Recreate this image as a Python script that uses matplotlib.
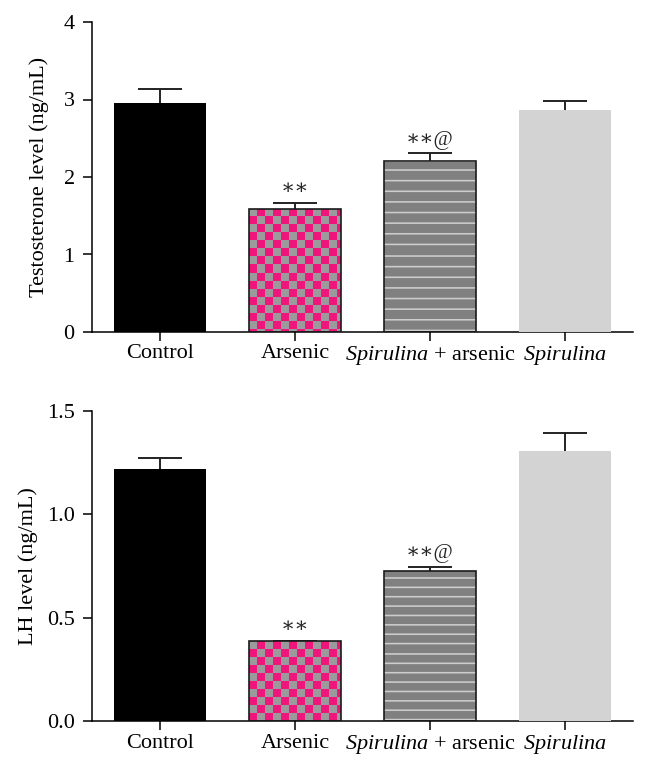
import numpy as np
import matplotlib
matplotlib.use('Agg')
import matplotlib.pyplot as plt

plt.rcParams['font.family'] = ['Liberation Serif', 'DejaVu Serif']
plt.rcParams['mathtext.fontset'] = 'custom'
plt.rcParams['mathtext.rm'] = 'Liberation Serif'
plt.rcParams['mathtext.it'] = 'Liberation Serif:italic'

# data
groups = ['Control', 'Arsenic', r'$\mathit{Spirulina}$ + arsenic', r'$\mathit{Spirulina}$']
testosterone = [2.95, 1.59, 2.20, 2.87]
testosterone_err = [0.18, 0.08, 0.11, 0.11]
lh = [1.22, 0.385, 0.727, 1.306]
lh_err = [0.055, 0.004, 0.019, 0.089]
signif = ['', '\u2217\u2217', '\u2217\u2217@', '']

PINK = np.array([240, 20, 125]) / 255
CHECK_GRAY = np.array([155, 155, 155]) / 255
STRIPE_BASE = np.array([128, 128, 128]) / 255
STRIPE_LIGHT = np.array([205, 205, 205]) / 255


def checker_img(w, h, size=8):
    yy, xx = np.mgrid[0:h, 0:w]
    mask = ((yy // size) + (xx // size)) % 2 == 1
    img = np.empty((h, w, 3))
    img[mask] = PINK
    img[~mask] = CHECK_GRAY
    return img


def stripe_img(w, h, n=16, thick=1.6):
    # pixel coverage of thin light stripes, so they all look alike
    period = h / n
    centers = period * (np.arange(n) + 0.85)
    top = np.arange(h)[:, None]
    lo = np.maximum(top, centers[None, :] - thick / 2)
    hi = np.minimum(top + 1, centers[None, :] + thick / 2)
    cover = np.clip(hi - lo, 0, 1).sum(axis=1).clip(0, 1)
    col = STRIPE_BASE[None, :] * (1 - cover[:, None]) + STRIPE_LIGHT[None, :] * cover[:, None]
    return np.repeat(col[:, None, :], w, axis=1)


def draw_panel(ax, vals, errs, ylim, yticks, yticklabels, ylabel, label_x):
    x = np.arange(len(vals))
    ax.errorbar(x, vals, yerr=errs, fmt='none',
                ecolor='#222222', elinewidth=1.4, capsize=16, capthick=1.4, zorder=1)
    bars = ax.bar(x, vals, 0.68, color=['black', 'none', 'none', '#d3d3d3'],
                  edgecolor=['black', '#1a1a1a', '#1a1a1a', '#d3d3d3'],
                  linewidth=[0, 1.2, 1.2, 0], zorder=3)
    ax.set_xlim(-0.5, 3.5)
    ax.set_ylim(*ylim)

    # opaque backing so the lower error bar stays hidden under the textured bars
    ax.bar(x[1:3], np.array(vals[1:3]), 0.68, color='white', zorder=1.5)

    # fill textures for arsenic groups
    for i, maker in [(1, checker_img), (2, stripe_img)]:
        b = bars[i]
        ext = b.get_window_extent()
        w = max(int(round(ext.width)), 1)
        h = max(int(round(ext.height)), 1)
        im = ax.imshow(maker(w, h), extent=(b.get_x(), b.get_x() + b.get_width(), 0, b.get_height()),
                       aspect='auto', interpolation='nearest', origin='upper', zorder=2.5)
        im.set_clip_path(b)
    ax.set_xlim(-0.5, 3.5)
    ax.set_ylim(*ylim)

    for xi, v, e, s in zip(x, vals, errs, signif):
        if s:
            ax.annotate(s, (xi, v + e), xytext=(0, 6), textcoords='offset points',
                        ha='center', va='baseline', fontsize=15, color='#222222')

    for side in ['top', 'right']:
        ax.spines[side].set_visible(False)
    for side in ['left', 'bottom']:
        ax.spines[side].set_linewidth(1.1)
    ax.set_xticks(x)
    ax.set_xticklabels(groups)
    ax.set_yticks(yticks)
    ax.set_yticklabels(yticklabels)
    ax.tick_params(axis='both', direction='out', length=6.5, width=1.1, labelsize=16)
    ax.tick_params(axis='x', pad=2.5)
    ax.tick_params(axis='y', pad=6)
    ax.set_ylabel(ylabel, fontsize=16)
    ax.yaxis.set_label_coords(label_x, 0.5)


fig = plt.figure(figsize=(6.48, 7.73), dpi=100)
ax1 = fig.add_axes([92 / 648, (773 - 332) / 773, 541 / 648, 310 / 773])
ax2 = fig.add_axes([92 / 648, (773 - 721) / 773, 541 / 648, 310 / 773])

draw_panel(ax1, testosterone, testosterone_err, (0, 4), [0, 1, 2, 3, 4],
           ['0', '1', '2', '3', '4'], 'Testosterone level (ng/mL)', -0.08)
draw_panel(ax2, lh, lh_err, (0, 1.5), [0, 0.5, 1.0, 1.5],
           ['0.0', '0.5', '1.0', '1.5'], 'LH level (ng/mL)', -0.1)

fig.savefig('out.png', dpi=100)
